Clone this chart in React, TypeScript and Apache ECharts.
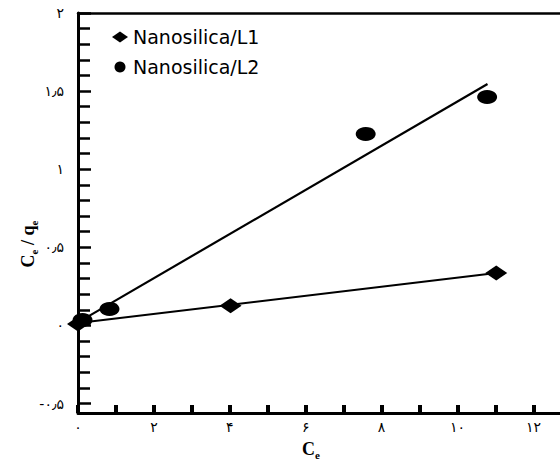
import React, { useEffect, useRef } from "react";
import * as echarts from "echarts";

const seriesNames = ["Nanosilica/L1", "Nanosilica/L2"];
// measured points (Ce, Ce/qe)
const l1Points: [number, number][] = [
  [0.0, 0.01],
  [4.02, 0.127],
  [11.02, 0.336],
];
const l2Points: [number, number][] = [
  [0.12, 0.035],
  [0.83, 0.106],
  [7.58, 1.226],
  [10.78, 1.462],
];
// fitted straight lines (end points)
const l1Fit: [number, number][] = [
  [0, 0.016],
  [11.02, 0.336],
];
const l2Fit: [number, number][] = [
  [0, 0.02],
  [10.79, 1.546],
];
const xLabelValues = [0, 2, 4, 6, 8, 10, 12];
const yLabelValues = [-0.5, 0, 0.5, 1, 1.5, 2];

const faDigits = ["۰", "۱", "۲", "۳", "۴", "۵", "۶", "۷", "۸", "۹"];
function toFa(v: number): string {
  const s = String(Math.round(v * 1000) / 1000);
  let out = "";
  for (const ch of s) {
    if (ch >= "0" && ch <= "9") out += faDigits[Number(ch)];
    else if (ch === ".") out += "٫";
    else out += ch;
  }
  return out;
}
function isLabel(list: number[], v: number) {
  return list.some((t) => Math.abs(t - v) < 1e-6);
}

export default function App() {
  const ref = useRef<HTMLDivElement>(null);
  useEffect(() => {
    if (!ref.current) return;
    const chart = echarts.init(ref.current, undefined, { renderer: "svg" });
    const black = "#000";
    const labelFont = "DejaVu Sans";
    const titleRich = {
      m: { fontFamily: "Liberation Serif", fontWeight: "bold", fontSize: 18, lineHeight: 22, color: black },
      s: {
        fontFamily: "Liberation Serif",
        fontWeight: "bold",
        fontSize: 11,
        lineHeight: 10,
        verticalAlign: "bottom",
        color: black,
      },
    };
    chart.setOption({
      animation: false,
      backgroundColor: "#fff",
      grid: [
        { left: 78, top: 13, right: 0, bottom: 46 },
        { left: 78, top: 13, right: 0, bottom: 55.4 },
      ],
      legend: {
        data: [
          { name: seriesNames[0], icon: "diamond" },
          { name: seriesNames[1], icon: "circle" },
        ],
        orient: "vertical",
        left: 107,
        top: 22,
        itemWidth: 16,
        itemHeight: 11,
        itemGap: 10,
        selectedMode: false,
        itemStyle: { color: black, opacity: 1 },
        textStyle: { fontFamily: labelFont, fontSize: 19, lineHeight: 20, color: black },
      },
      xAxis: [
        {
          gridIndex: 0,
          type: "value",
          min: 0,
          max: 12.7,
          interval: 1,
          axisLine: { onZero: false, lineStyle: { color: black, width: 3 } },
          axisTick: { show: true, inside: true, length: 8, lineStyle: { color: black, width: 4 } },
          axisLabel: {
            margin: 7,
            fontSize: 14,
            fontFamily: labelFont,
            color: black,
            showMaxLabel: false,
            formatter: (v: number) => (isLabel(xLabelValues, v) ? toFa(v) : ""),
          },
          splitLine: { show: false },
        },
        {
          gridIndex: 0,
          type: "value",
          position: "top",
          min: 0,
          max: 12.7,
          axisLine: { show: true, onZero: false, lineStyle: { color: black, width: 2.5 } },
          axisTick: { show: false },
          axisLabel: { show: false },
          splitLine: { show: false },
        },
        { gridIndex: 1, type: "value", min: 0, max: 12.7, show: false },
      ],
      yAxis: [
        {
          gridIndex: 0,
          type: "value",
          min: -0.56,
          max: 2,
          axisLine: { show: true, onZero: false, lineStyle: { color: black, width: 3 } },
          axisTick: { show: false },
          axisLabel: { show: false },
          splitLine: { show: false },
        },
        {
          gridIndex: 1,
          type: "value",
          min: -0.5,
          max: 2,
          interval: 0.5,
          axisLine: { show: false, onZero: false },
          axisTick: { show: true, inside: true, length: 13, lineStyle: { color: black, width: 2.5 } },
          minorTick: { show: true, splitNumber: 5, length: 12, lineStyle: { color: black, width: 2.5 } },
          axisLabel: {
            margin: 14,
            fontSize: 14,
            fontFamily: labelFont,
            color: black,
            formatter: (v: number) => (isLabel(yLabelValues, v) ? toFa(v) : ""),
          },
          splitLine: { show: false },
          minorSplitLine: { show: false },
        },
      ],
      graphic: [
        {
          type: "text",
          x: 28,
          y: 244,
          rotation: Math.PI / 2,
          style: {
            text: "{m|C}{s|e}{m| / q}{s|e}",
            rich: titleRich,
            align: "center",
            verticalAlign: "middle",
          },
        },
        {
          type: "text",
          x: 311,
          y: 449,
          style: {
            text: "{m|C}{s|e}",
            rich: titleRich,
            align: "center",
            verticalAlign: "middle",
          },
        },
      ],
      series: [
        {
          name: "fit L1",
          type: "line",
          xAxisIndex: 0,
          yAxisIndex: 0,
          data: l1Fit,
          showSymbol: false,
          symbol: "none",
          silent: true,
          lineStyle: { color: black, width: 2 },
          z: 2,
        },
        {
          name: "fit L2",
          type: "line",
          xAxisIndex: 0,
          yAxisIndex: 0,
          data: l2Fit,
          showSymbol: false,
          symbol: "none",
          silent: true,
          lineStyle: { color: black, width: 2.2 },
          z: 2,
        },
        {
          name: seriesNames[0],
          type: "scatter",
          xAxisIndex: 0,
          yAxisIndex: 0,
          data: l1Points,
          symbol: "diamond",
          symbolSize: [22, 15],
          itemStyle: { color: black, opacity: 1 },
          z: 3,
        },
        {
          name: seriesNames[1],
          type: "scatter",
          xAxisIndex: 0,
          yAxisIndex: 0,
          data: l2Points,
          symbol: "circle",
          symbolSize: [20, 14],
          itemStyle: { color: black, opacity: 1 },
          z: 3,
        },
        {
          name: "axis helper",
          type: "scatter",
          xAxisIndex: 2,
          yAxisIndex: 1,
          data: [[0, 0]],
          symbolSize: 0,
          silent: true,
          itemStyle: { opacity: 0 },
        },
      ],
    });
    return () => chart.dispose();
  }, []);
  return (
    <div
      ref={ref}
      style={{ position: "fixed", left: 0, top: 0, width: 560, height: 459 }}
    />
  );
}
